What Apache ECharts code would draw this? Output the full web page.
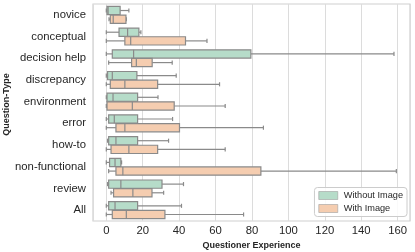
<!DOCTYPE html>
<html>
<head>
<meta charset="utf-8">
<script src="https://cdn.jsdelivr.net/npm/echarts@6/dist/echarts.min.js"></script>
<style>
  html, body { margin: 0; padding: 0; background: #ffffff; }
  #chart { width: 415px; height: 252px; }
</style>
</head>
<body>
<div id="chart"></div>
<script>
// Categories (top to bottom)
const categories = ['novice', 'conceptual', 'decision help', 'discrepancy', 'environment',
                    'error', 'how-to', 'non-functional', 'review', 'All'];

// Box statistics per category: [min, Q1, median, Q3, max]
const withoutImage = [
  [0, 0.4, 1, 7.6, 12.4],
  [0, 7, 11.7, 17.9, 19],
  [0, 3.3, 15, 79.4, 158],
  [0, 0.7, 3.3, 16.8, 38.4],
  [0, 0.4, 3.7, 17.2, 28.4],
  [0, 1.3, 4.4, 17.2, 36.4],
  [0.7, 1.3, 5.3, 17.2, 34.2],
  [0, 1.8, 4.8, 8.0, 8.4],
  [0.7, 1.3, 8.0, 30.6, 42.4],
  [0, 1.3, 4.8, 17.2, 41.3]
];
const withImage = [
  [1.5, 2.2, 3.8, 10.8, 11],
  [0, 10.2, 13.4, 43.5, 55.3],
  [1.3, 13.9, 16.5, 25.2, 36.2],
  [0, 2.2, 10.2, 28.2, 62.2],
  [0, 0.4, 14.3, 37.3, 65.3],
  [0, 5.3, 10.2, 40.2, 86.3],
  [0, 2.6, 12.4, 28.2, 65.3],
  [1.3, 5.3, 9.1, 84.9, 159.3],
  [2.6, 4.0, 14.6, 25.1, 31.5],
  [0, 3.3, 11, 32.2, 75.4]
];

const seriesNames = ['Without Image', 'With Image'];
const xTickInterval = 20;
const yTitle = 'Question-Type';

const GREEN = '#b6dcc9';
const ORANGE = '#f5cdb0';
const EDGE = '#8a8a8a';
const FONT = "'Liberation Sans', Arial, sans-serif";

function toData(stats) {
  return stats.map((s, i) => [i, s[0], s[1], s[2], s[3], s[4]]);
}

function makeRender(offsetFrac, color) {
  return function (params, api) {
    const cat = api.value(0);
    const band = api.size([0, 1])[1];
    const h = band * 0.38;
    const cy = api.coord([0, cat])[1] + offsetFrac * band;
    const px = v => api.coord([v, cat])[0];
    const xmin = px(api.value(1)), xq1 = px(api.value(2)), xmed = px(api.value(3)),
          xq3 = px(api.value(4)), xmax = px(api.value(5));
    const capH = h * 0.5;
    const ls = { stroke: EDGE, lineWidth: 1.2 };
    return {
      type: 'group',
      children: [
        { type: 'line', shape: { x1: xmin, y1: cy, x2: xq1, y2: cy }, style: ls },
        { type: 'line', shape: { x1: xq3, y1: cy, x2: xmax, y2: cy }, style: ls },
        { type: 'line', shape: { x1: xmin, y1: cy - capH / 2, x2: xmin, y2: cy + capH / 2 }, style: ls },
        { type: 'line', shape: { x1: xmax, y1: cy - capH / 2, x2: xmax, y2: cy + capH / 2 }, style: ls },
        { type: 'rect', shape: { x: xq1, y: cy - h / 2, width: xq3 - xq1, height: h },
          style: { fill: color, stroke: EDGE, lineWidth: 1.2 } },
        { type: 'line', shape: { x1: xmed, y1: cy - h / 2, x2: xmed, y2: cy + h / 2 }, style: ls }
      ]
    };
  };
}

const chart = echarts.init(document.getElementById('chart'), null, { renderer: 'canvas' });
chart.setOption({
  animation: false,
  backgroundColor: '#ffffff',
  textStyle: { fontFamily: FONT },
  grid: {
    left: 93, right: 5, top: 4, bottom: 31,
    containLabel: false, outerBoundsMode: 'none',
    show: true, borderColor: '#cfcfcf', borderWidth: 1.2, backgroundColor: 'transparent'
  },
  graphic: [{
    type: 'text',
    x: 7, y: 104.5,
    rotation: Math.PI / 2,
    style: {
      text: yTitle, fontFamily: FONT, fontSize: 9, fontWeight: 'bold', fill: '#262626',
      align: 'center', verticalAlign: 'middle'
    }
  }],
  legend: {
    orient: 'vertical',
    right: 8, top: 187.5,
    data: seriesNames,
    icon: 'rect',
    itemWidth: 19, itemHeight: 8, itemGap: 2,
    padding: [2.5, 4, 2.5, 4],
    borderColor: '#cccccc', borderWidth: 1, borderRadius: 3,
    backgroundColor: 'rgba(255,255,255,0.85)',
    itemStyle: { borderColor: '#a0a0a0', borderWidth: 0.6 },
    textStyle: { fontFamily: FONT, fontSize: 9.2, lineHeight: 11, color: '#262626', padding: [0, 0, 0, 1] }
  },
  xAxis: {
    type: 'value',
    min: -7.3, max: 166.8,
    splitNumber: 8, minInterval: xTickInterval, maxInterval: xTickInterval,
    name: 'Questioner Experience',
    nameLocation: 'middle', nameGap: 16,
    nameTextStyle: { fontFamily: FONT, fontSize: 9, fontWeight: 'bold', color: '#262626' },
    axisLine: { show: false }, axisTick: { show: false },
    axisLabel: {
      fontFamily: FONT, fontSize: 11.3, color: '#262626', margin: 4,
      formatter: v => (Math.abs(v % xTickInterval) < 1e-6 ? String(Math.round(v)) : '')
    },
    splitLine: { show: true, lineStyle: { color: '#dcdcdc', width: 1 } }
  },
  yAxis: {
    type: 'category',
    data: categories,
    inverse: true,
    axisLine: { show: false }, axisTick: { show: false },
    axisLabel: { fontFamily: FONT, fontSize: 11.3, color: '#262626', margin: 7 },
    splitLine: { show: false }
  },
  series: [
    {
      name: seriesNames[0], type: 'custom',
      renderItem: makeRender(-0.2, GREEN),
      itemStyle: { color: GREEN, borderColor: EDGE },
      encode: { x: [1, 2, 3, 4, 5], y: 0 },
      data: toData(withoutImage)
    },
    {
      name: seriesNames[1], type: 'custom',
      renderItem: makeRender(0.2, ORANGE),
      itemStyle: { color: ORANGE, borderColor: EDGE },
      encode: { x: [1, 2, 3, 4, 5], y: 0 },
      data: toData(withImage)
    }
  ]
});
</script>
</body>
</html>
